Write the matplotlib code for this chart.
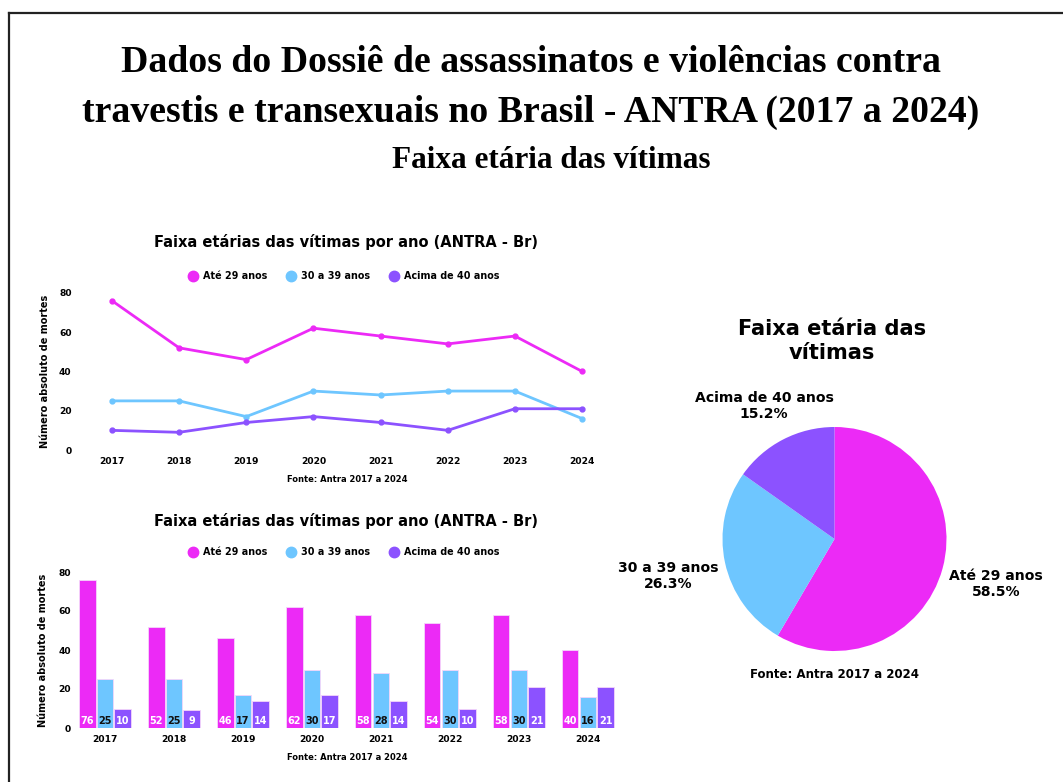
import matplotlib
matplotlib.use('Agg')
import matplotlib.pyplot as plt
from matplotlib.lines import Line2D

# ---------------- data ----------------
years = [2017, 2018, 2019, 2020, 2021, 2022, 2023, 2024]
ate29 = [76, 52, 46, 62, 58, 54, 58, 40]
de30a39 = [25, 25, 17, 30, 28, 30, 30, 16]
acima40 = [10, 9, 14, 17, 14, 10, 21, 21]
series_names = ['Até 29 anos', '30 a 39 anos', 'Acima de 40 anos']
series_values = [ate29, de30a39, acima40]
colors = ['#EC2AF6', '#6EC6FF', '#8C52FF']
value_label_colors = ['white', '#111111', 'white']
yticks = [0, 20, 40, 60, 80]

main_title1 = 'Dados do Dossiê de assassinatos e violências contra'
main_title2 = 'travestis e transexuais no Brasil - ANTRA (2017 a 2024)'
main_subtitle = 'Faixa etária das vítimas'
chart_title = 'Faixa etárias das vítimas por ano (ANTRA - Br)'
ylabel = 'Número absoluto de mortes'
source = 'Fonte: Antra 2017 a 2024'
pie_title = 'Faixa etária das\nvítimas'

SANS = ['DejaVu Sans']
SERIF = ['Liberation Serif', 'DejaVu Serif']
plt.rcParams['font.family'] = SANS

W, H = 1063, 782
fig = plt.figure(figsize=(W / 100, H / 100), dpi=100)
fig.patch.set_facecolor('white')


def fx(x):
    return x / W


def fy(y):
    return 1 - y / H


def rect(l, t, r, b):
    return [l / W, 1 - b / H, (r - l) / W, (b - t) / H]


# border (left and top)
fig.add_artist(Line2D([fx(9), fx(9)], [fy(13), fy(782)], color='#222222', lw=1.6))
fig.add_artist(Line2D([fx(9), fx(1063)], [fy(13), fy(13)], color='#222222', lw=1.6))

# main titles
fig.text(fx(531), fy(62), main_title1, ha='center', va='center', family=SERIF,
         fontweight='bold', fontsize=27.2, color='black')
fig.text(fx(531), fy(112), main_title2, ha='center', va='center', family=SERIF,
         fontweight='bold', fontsize=27.2, color='black')
fig.text(fx(551), fy(160), main_subtitle, ha='center', va='center', family=SERIF,
         fontweight='bold', fontsize=22.5, color='black')


def style_axes(ax, ypad):
    for s in ax.spines.values():
        s.set_visible(False)
    ax.tick_params(length=0, labelsize=6.6)
    ax.tick_params(axis='x', pad=5)
    ax.tick_params(axis='y', pad=ypad)
    ax.set_yticks(yticks)
    ax.set_xticks(years)
    ax.set_xticklabels([str(y) for y in years], fontweight='bold')
    ax.set_yticklabels([str(v) for v in yticks], fontweight='bold')
    ax.set_facecolor('none')


def legend_handles():
    return [Line2D([], [], marker='o', linestyle='none', markersize=7.5,
                   markerfacecolor=c, markeredgecolor=c) for c in colors]


LEG = dict(loc='center', ncol=3, frameon=False, prop={'size': 6.9, 'weight': 'bold'},
           handletextpad=0.55, columnspacing=2.0, handlelength=1.0)

# ---------------- line chart ----------------
ax1 = fig.add_axes(rect(80, 283, 600, 450))
for vals, c in zip(series_values, colors):
    ax1.plot(years, vals, color=c, lw=2, marker='o', markersize=3.5)
ax1.set_xlim(2016.525, 2024.267)
ax1.set_ylim(0, 85)
style_axes(ax1, 6)
fig.text(fx(45), fy(371), ylabel, rotation=90, ha='center', va='center',
         fontsize=7.0, fontweight='bold')
fig.text(fx(346), fy(242), chart_title, ha='center', va='center',
         fontsize=10.5, fontweight='bold')
fig.legend(legend_handles(), series_names, bbox_to_anchor=(fx(344), fy(276)), **LEG)
fig.text(fx(347), fy(480), source, ha='center', va='center', fontsize=6.0, fontweight='bold')

# ---------------- bar chart ----------------
ax2 = fig.add_axes(rect(75, 572, 619, 728))
bw = 0.245
offsets = [-0.26, 0.0, 0.26]
for vals, c, off, lc in zip(series_values, colors, offsets, value_label_colors):
    xs = [y + off for y in years]
    ax2.bar(xs, vals, width=bw, color=c, edgecolor='#F4D6FA', linewidth=0.6)
    for x, v in zip(xs, vals):
        ax2.text(x, 3.6, str(v), ha='center', va='center', color=lc,
                 fontsize=7.0, fontweight='bold')
ax2.set_xlim(2016.565, 2024.45)
ax2.set_ylim(0, 80)
style_axes(ax2, 3)
fig.text(fx(43), fy(650), ylabel, rotation=90, ha='center', va='center',
         fontsize=7.0, fontweight='bold')
fig.text(fx(346), fy(521), chart_title, ha='center', va='center',
         fontsize=10.5, fontweight='bold')
fig.legend(legend_handles(), series_names, bbox_to_anchor=(fx(344), fy(552)), **LEG)
fig.text(fx(347), fy(758), source, ha='center', va='center', fontsize=6.0, fontweight='bold')

# ---------------- pie chart ----------------
totals = [sum(v) for v in series_values]
ax3 = fig.add_axes(rect(722.5, 427, 946.5, 651))
ax3.pie(totals, colors=colors, startangle=90, counterclock=False, radius=1,
        wedgeprops={'linewidth': 0})
ax3.set_xlim(-1, 1)
ax3.set_ylim(-1, 1)
ax3.set_aspect('equal')
ax3.axis('off')
grand = sum(totals)
pcts = [100 * t / grand for t in totals]
label_pos = [(996, 584), (668, 576), (764, 406)]
for name, p, (lx, ly) in zip(series_names, pcts, label_pos):
    fig.text(fx(lx), fy(ly), f'{name}\n{p:.1f}%', ha='center', va='center',
             fontsize=10.1, fontweight='bold', linespacing=1.2)
fig.text(fx(832), fy(341), pie_title, ha='center', va='center', fontsize=15.1,
         fontweight='bold', linespacing=1.3)
fig.text(fx(834), fy(674), source, ha='center', va='center', fontsize=8.5, fontweight='bold')

fig.savefig('out.png', dpi=100, facecolor='white')
